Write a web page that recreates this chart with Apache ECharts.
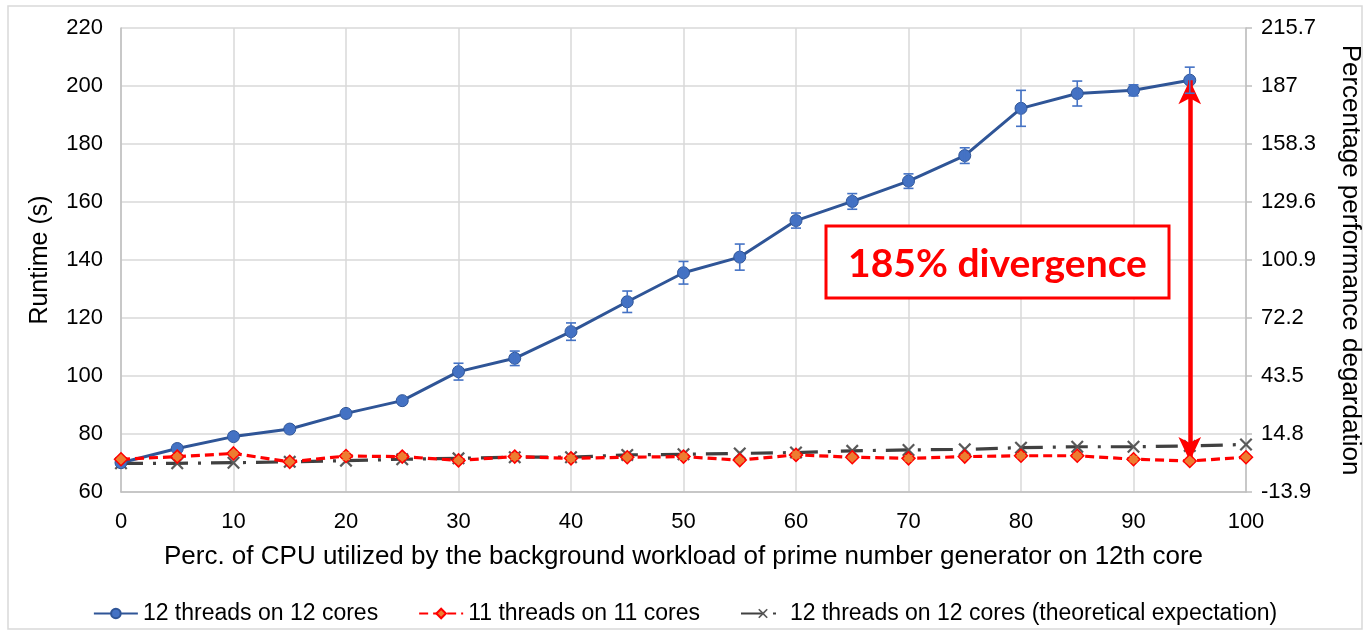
<!DOCTYPE html>
<html>
<head>
<meta charset="utf-8">
<script src="https://cdn.jsdelivr.net/npm/echarts@6/dist/echarts.min.js"></script>
<style>
  html, body { margin: 0; padding: 0; background: #fff; }
  #chart { width: 1370px; height: 634px; }
</style>
</head>
<body>
<div id="chart"></div>
<script>
// CPU share used by the background prime-number workload (%)
const cpuShare = [0, 5, 10, 15, 20, 25, 30, 35, 40, 45, 50, 55, 60, 65, 70, 75, 80, 85, 90, 95, 100];

// 12 threads on 12 cores: mean runtime (s) and error (+/-)
const runtime12 = [70.1, 75.0, 79.1, 81.7, 87.1, 91.5, 101.5, 106.1, 115.3, 125.6, 135.6, 141.0, 153.6, 160.2, 167.2, 176.0, 192.3, 197.4, 198.5, 202.0];
const err12 = [0.8, 1.0, 0.8, 0.8, 0.8, 0.8, 2.9, 2.5, 3.0, 3.7, 3.9, 4.5, 2.6, 2.7, 2.5, 2.7, 6.2, 4.3, 1.9, 4.5];

// 11 threads on 11 cores: mean runtime (s) and error (+/-)
const runtime11 = [71.3, 72.2, 73.3, 70.4, 72.4, 72.2, 70.9, 72.2, 71.6, 72.0, 72.2, 71.0, 72.8, 72.0, 71.6, 72.2, 72.5, 72.5, 71.3, 70.7, 72.0];
const err11 = [0.3, 0.5, 0.5, 0.3, 1.2, 0.7, 0.5, 0.9, 0.9, 0.5, 0.9, 0.5, 1.0, 0.5, 0.9, 0.6, 0.7, 0.6, 0.9, 0.5, 0.4];

// 12 threads on 12 cores, theoretical expectation (s)
const runtimeTheory = [69.9, 69.9, 70.1, 70.4, 70.8, 71.3, 71.6, 72.0, 72.0, 72.8, 73.0, 73.3, 73.6, 74.2, 74.5, 74.7, 75.3, 75.6, 75.6, 75.9, 76.4];

// Right-axis tick labels (percentage degradation), bottom to top
const degradationTicks = ['-13.9', '14.8', '43.5', '72.2', '100.9', '129.6', '158.3', '187', '215.7'];

const seriesNames = ['12 threads on 12 cores', '11 threads on 11 cores', '12 threads on 12 cores (theoretical expectation)'];
const annotationText = '185% divergence';
const arrowAt = 95;

const FONT = '"Liberation Sans", Arial, sans-serif';
const pairs = (xs, ys) => ys.map((y, i) => [xs[i], y]);
const errRows = (xs, ys, es) => ys.map((y, i) => [xs[i], y - es[i], y + es[i]]);

function errorBars(color, cap, width) {
  return function (params, api) {
    const lo = api.coord([api.value(0), api.value(1)]);
    const hi = api.coord([api.value(0), api.value(2)]);
    const style = { stroke: color, lineWidth: width };
    return {
      type: 'group',
      children: [
        { type: 'line', shape: { x1: lo[0], y1: lo[1], x2: hi[0], y2: hi[1] }, style },
        { type: 'line', shape: { x1: lo[0] - cap, y1: lo[1], x2: lo[0] + cap, y2: lo[1] }, style },
        { type: 'line', shape: { x1: hi[0] - cap, y1: hi[1], x2: hi[0] + cap, y2: hi[1] }, style }
      ]
    };
  };
}

const crossPath = 'path://M0,1.2 L1.2,0 L5,3.8 L8.8,0 L10,1.2 L6.2,5 L10,8.8 L8.8,10 L5,6.2 L1.2,10 L0,8.8 L3.8,5 Z';

const chart = echarts.init(document.getElementById('chart'), null, { renderer: 'canvas' });

const option = {
  backgroundColor: '#ffffff',
  animation: false,
  grid: { left: 121, right: 124, top: 28, bottom: 142, containLabel: false, outerBoundsMode: 'none' },
  legend: {
    bottom: 4,
    left: 'center',
    itemGap: 40,
    itemWidth: 44,
    itemHeight: 12,
    textStyle: { fontFamily: FONT, fontSize: 23, color: '#000' },
    data: seriesNames
  },
  xAxis: {
    type: 'value',
    min: 0, max: 100, interval: 10,
    name: 'Perc. of CPU utilized by the background workload of prime number generator on 12th core',
    nameLocation: 'middle',
    nameGap: 52,
    nameTextStyle: { fontFamily: FONT, fontSize: 26, color: '#000' },
    axisLine: { show: true, lineStyle: { color: '#bfbfbf', width: 1.5 } },
    axisTick: { show: false },
    axisLabel: { fontFamily: FONT, fontSize: 22, color: '#000', margin: 19 },
    splitLine: { show: true, lineStyle: { color: '#d9d9d9', width: 1.5 } }
  },
  yAxis: [
    {
      type: 'value',
      min: 60, max: 220, interval: 20,
      name: 'Runtime (s)',
      nameLocation: 'middle',
      nameGap: 68,
      nameRotate: 90,
      nameTextStyle: { fontFamily: FONT, fontSize: 25, color: '#000' },
      axisLine: { show: true, lineStyle: { color: '#bfbfbf', width: 1.5 } },
      axisTick: { show: false },
      axisLabel: { fontFamily: FONT, fontSize: 22, color: '#000', margin: 18 },
      splitLine: { show: true, lineStyle: { color: '#d9d9d9', width: 1.5 } }
    },
    {
      type: 'value',
      position: 'right',
      min: 60, max: 220, interval: 20,
      name: 'Percentage performance degardation',
      nameLocation: 'middle',
      nameGap: 91,
      nameRotate: -90,
      nameTextStyle: { fontFamily: FONT, fontSize: 26, color: '#000' },
      axisLine: { show: true, lineStyle: { color: '#bfbfbf', width: 1.5 } },
      axisTick: { show: true, length: 6, lineStyle: { color: '#bfbfbf', width: 1.5 } },
      axisLabel: {
        fontFamily: FONT, fontSize: 22, color: '#000', margin: 15,
        formatter: v => degradationTicks[Math.round((v - 60) / 20)]
      },
      splitLine: { show: false }
    }
  ],
  series: [
    {
      name: seriesNames[2],
      type: 'line',
      data: pairs(cpuShare, runtimeTheory),
      z: 3,
      symbol: crossPath,
      symbolSize: 13,
      itemStyle: { color: '#595959' },
      lineStyle: { color: '#404040', width: 3.2, type: [22, 10, 3, 10] }
    },
    {
      name: seriesNames[0],
      type: 'line',
      data: pairs(cpuShare, runtime12),
      z: 4,
      symbol: 'circle',
      symbolSize: 12,
      itemStyle: { color: '#4472c4', borderColor: '#2f5597', borderWidth: 1 },
      lineStyle: { color: '#2f5597', width: 3 }
    },
    {
      type: 'custom',
      z: 5,
      renderItem: errorBars('#4472c4', 5, 1.6),
      data: errRows(cpuShare, runtime12, err12),
      encode: { x: 0, y: [1, 2] },
      silent: true
    },
    {
      name: seriesNames[1],
      type: 'line',
      data: pairs(cpuShare, runtime11),
      z: 6,
      symbol: 'diamond',
      symbolSize: 13,
      itemStyle: { color: '#ed7d31', borderColor: '#ff0000', borderWidth: 1.5 },
      lineStyle: { color: '#ff0000', width: 3.2, type: [9, 5] },
      markLine: {
        silent: true,
        symbol: ['arrow', 'arrow'],
        symbolSize: [17, 24],
        label: { show: false },
        lineStyle: { color: '#ff0000', width: 4.5, type: 'solid' },
        data: [[
          { coord: [arrowAt, runtime12[cpuShare.indexOf(arrowAt)]] },
          { coord: [arrowAt, runtime11[cpuShare.indexOf(arrowAt)]] }
        ]]
      }
    },
    {
      type: 'custom',
      z: 7,
      renderItem: errorBars('#ed7d31', 4, 1.4),
      data: errRows(cpuShare, runtime11, err11),
      encode: { x: 0, y: [1, 2] },
      silent: true
    }
  ],
  graphic: [
    {
      type: 'rect',
      silent: true,
      z: -1,
      shape: { x: 8, y: 6, width: 1354, height: 623 },
      style: { fill: 'none', stroke: '#d9d9d9', lineWidth: 1.5 }
    },
    {
      type: 'rect',
      silent: true,
      z: 100,
      zlevel: 1,
      shape: { x: 826, y: 226, width: 343, height: 72 },
      style: { fill: '#ffffff', stroke: '#ff0000', lineWidth: 3 }
    },
    {
      type: 'text',
      silent: true,
      z: 101,
      zlevel: 1,
      x: 997.5,
      y: 264,
      style: {
        text: annotationText,
        fill: '#ff0000',
        font: 'bold 39px Lato, "Open Sans", sans-serif',
        align: 'center',
        verticalAlign: 'middle'
      }
    }
  ]
};

chart.setOption(option);
</script>
</body>
</html>
